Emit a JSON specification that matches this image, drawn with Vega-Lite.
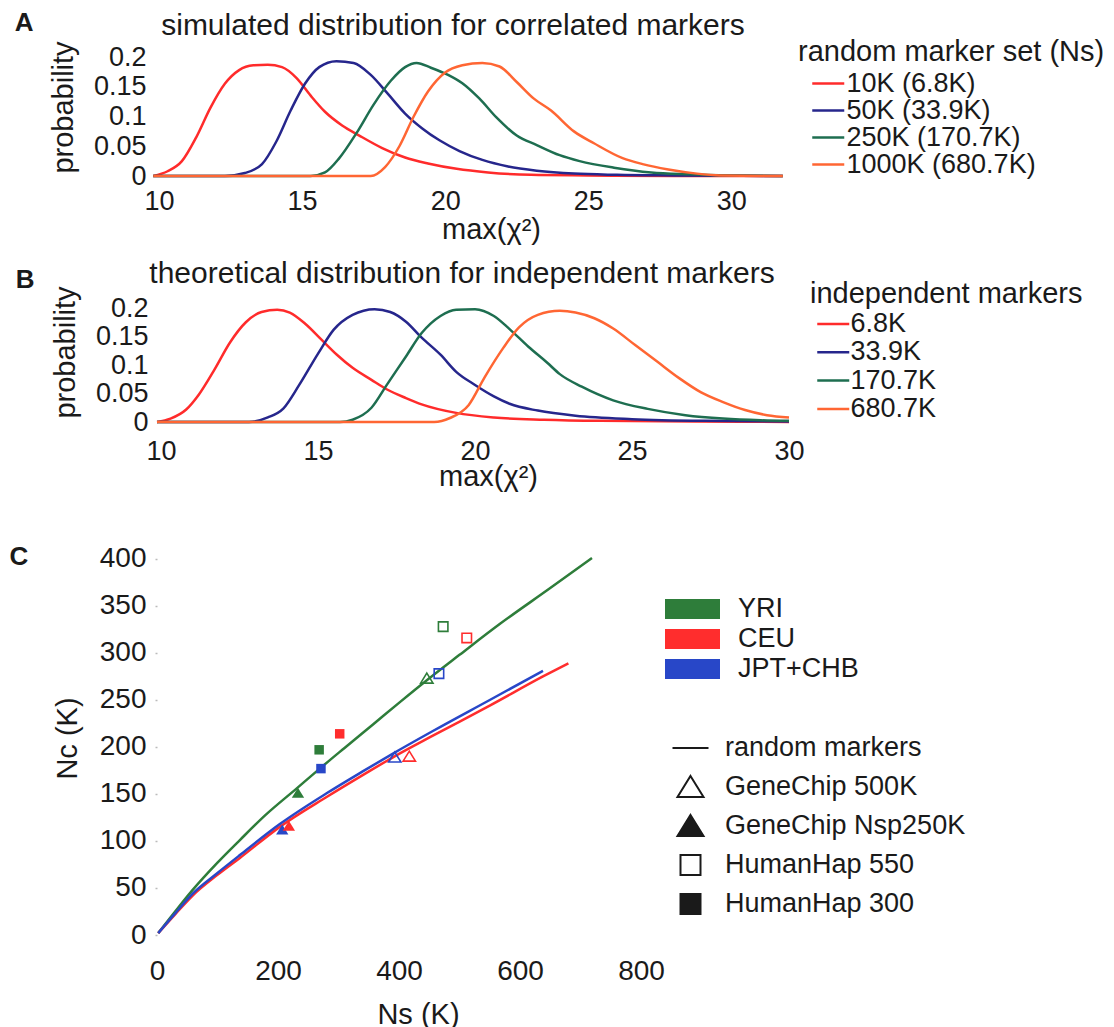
{
  "$schema": "https://vega.github.io/schema/vega-lite/v6.json",
  "background": "white",
  "padding": {"left": 9, "top": 9, "right": 0, "bottom": 0},
  "spacing": 13,
  "config": {
    "font": "Liberation Sans",
    "view": {"stroke": null},
    "axis": {"domain": false, "ticks": false, "grid": false, "labelFontSize": 27, "labelColor": "#1a1a1a", "titleFontSize": 29, "titleFontWeight": "normal", "titleColor": "#1a1a1a", "labelFlush": false, "labelOverlap": false},
    "legend": {"titleFontWeight": "normal", "titleFontSize": 29, "labelFontSize": 27, "titleColor": "#1a1a1a", "labelColor": "#1a1a1a", "labelLimit": 500, "titleLimit": 500},
    "title": {"fontWeight": "normal", "fontSize": 30, "color": "#1a1a1a"}
  },
  "datasets": {
    "simA": [
      {"s": "10K (6.8K)", "x": 9.8, "p": 0}, {"s": "10K (6.8K)", "x": 10.3, "p": 0.008}, {"s": "10K (6.8K)", "x": 10.8, "p": 0.025}, {"s": "10K (6.8K)", "x": 11.3, "p": 0.065}, {"s": "10K (6.8K)", "x": 11.8, "p": 0.115}, {"s": "10K (6.8K)", "x": 12.3, "p": 0.155}, {"s": "10K (6.8K)", "x": 12.8, "p": 0.178}, {"s": "10K (6.8K)", "x": 13.3, "p": 0.186}, {"s": "10K (6.8K)", "x": 13.8, "p": 0.187}, {"s": "10K (6.8K)", "x": 14.3, "p": 0.183}, {"s": "10K (6.8K)", "x": 14.8, "p": 0.165}, {"s": "10K (6.8K)", "x": 15.3, "p": 0.135}, {"s": "10K (6.8K)", "x": 15.8, "p": 0.108}, {"s": "10K (6.8K)", "x": 16.4, "p": 0.085}, {"s": "10K (6.8K)", "x": 17.0, "p": 0.068}, {"s": "10K (6.8K)", "x": 17.8, "p": 0.047}, {"s": "10K (6.8K)", "x": 18.6, "p": 0.031}, {"s": "10K (6.8K)", "x": 19.4, "p": 0.021}, {"s": "10K (6.8K)", "x": 20.4, "p": 0.012}, {"s": "10K (6.8K)", "x": 21.5, "p": 0.006}, {"s": "10K (6.8K)", "x": 23.0, "p": 0.002}, {"s": "10K (6.8K)", "x": 25.0, "p": 0.001}, {"s": "10K (6.8K)", "x": 28.0, "p": 0}, {"s": "10K (6.8K)", "x": 31.8, "p": 0},
      {"s": "50K (33.9K)", "x": 9.8, "p": 0}, {"s": "50K (33.9K)", "x": 12.3, "p": 0}, {"s": "50K (33.9K)", "x": 13.0, "p": 0.005}, {"s": "50K (33.9K)", "x": 13.6, "p": 0.02}, {"s": "50K (33.9K)", "x": 14.1, "p": 0.058}, {"s": "50K (33.9K)", "x": 14.6, "p": 0.11}, {"s": "50K (33.9K)", "x": 15.1, "p": 0.155}, {"s": "50K (33.9K)", "x": 15.6, "p": 0.183}, {"s": "50K (33.9K)", "x": 16.2, "p": 0.193}, {"s": "50K (33.9K)", "x": 16.8, "p": 0.19}, {"s": "50K (33.9K)", "x": 17.4, "p": 0.17}, {"s": "50K (33.9K)", "x": 18.0, "p": 0.138}, {"s": "50K (33.9K)", "x": 18.6, "p": 0.105}, {"s": "50K (33.9K)", "x": 19.2, "p": 0.08}, {"s": "50K (33.9K)", "x": 19.8, "p": 0.06}, {"s": "50K (33.9K)", "x": 20.5, "p": 0.042}, {"s": "50K (33.9K)", "x": 21.3, "p": 0.027}, {"s": "50K (33.9K)", "x": 22.2, "p": 0.016}, {"s": "50K (33.9K)", "x": 23.2, "p": 0.009}, {"s": "50K (33.9K)", "x": 24.5, "p": 0.004}, {"s": "50K (33.9K)", "x": 26.0, "p": 0.002}, {"s": "50K (33.9K)", "x": 28.0, "p": 0.001}, {"s": "50K (33.9K)", "x": 31.8, "p": 0},
      {"s": "250K (170.7K)", "x": 9.8, "p": 0}, {"s": "250K (170.7K)", "x": 15.3, "p": 0}, {"s": "250K (170.7K)", "x": 15.8, "p": 0.006}, {"s": "250K (170.7K)", "x": 16.3, "p": 0.03}, {"s": "250K (170.7K)", "x": 16.9, "p": 0.072}, {"s": "250K (170.7K)", "x": 17.5, "p": 0.12}, {"s": "250K (170.7K)", "x": 18.1, "p": 0.16}, {"s": "250K (170.7K)", "x": 18.6, "p": 0.183}, {"s": "250K (170.7K)", "x": 19.0, "p": 0.19}, {"s": "250K (170.7K)", "x": 19.5, "p": 0.182}, {"s": "250K (170.7K)", "x": 20.1, "p": 0.17}, {"s": "250K (170.7K)", "x": 20.6, "p": 0.156}, {"s": "250K (170.7K)", "x": 21.2, "p": 0.13}, {"s": "250K (170.7K)", "x": 21.8, "p": 0.098}, {"s": "250K (170.7K)", "x": 22.5, "p": 0.068}, {"s": "250K (170.7K)", "x": 23.2, "p": 0.052}, {"s": "250K (170.7K)", "x": 24.0, "p": 0.035}, {"s": "250K (170.7K)", "x": 24.7, "p": 0.025}, {"s": "250K (170.7K)", "x": 25.9, "p": 0.014}, {"s": "250K (170.7K)", "x": 27.2, "p": 0.006}, {"s": "250K (170.7K)", "x": 28.5, "p": 0.003}, {"s": "250K (170.7K)", "x": 30.0, "p": 0.001}, {"s": "250K (170.7K)", "x": 31.8, "p": 0},
      {"s": "1000K (680.7K)", "x": 9.8, "p": 0}, {"s": "1000K (680.7K)", "x": 17.4, "p": 0}, {"s": "1000K (680.7K)", "x": 17.9, "p": 0.015}, {"s": "1000K (680.7K)", "x": 18.4, "p": 0.05}, {"s": "1000K (680.7K)", "x": 18.9, "p": 0.1}, {"s": "1000K (680.7K)", "x": 19.4, "p": 0.142}, {"s": "1000K (680.7K)", "x": 20.0, "p": 0.174}, {"s": "1000K (680.7K)", "x": 20.6, "p": 0.186}, {"s": "1000K (680.7K)", "x": 21.3, "p": 0.19}, {"s": "1000K (680.7K)", "x": 21.9, "p": 0.184}, {"s": "1000K (680.7K)", "x": 22.5, "p": 0.158}, {"s": "1000K (680.7K)", "x": 23.1, "p": 0.13}, {"s": "1000K (680.7K)", "x": 23.7, "p": 0.11}, {"s": "1000K (680.7K)", "x": 24.5, "p": 0.075}, {"s": "1000K (680.7K)", "x": 25.2, "p": 0.055}, {"s": "1000K (680.7K)", "x": 26.2, "p": 0.03}, {"s": "1000K (680.7K)", "x": 26.9, "p": 0.02}, {"s": "1000K (680.7K)", "x": 27.8, "p": 0.011}, {"s": "1000K (680.7K)", "x": 28.8, "p": 0.004}, {"s": "1000K (680.7K)", "x": 29.6, "p": 0.001}, {"s": "1000K (680.7K)", "x": 31.8, "p": 0}
    ],
    "simB": [
      {"s": "6.8K", "x": 9.87, "p": 0}, {"s": "6.8K", "x": 10.3, "p": 0.006}, {"s": "6.8K", "x": 10.8, "p": 0.022}, {"s": "6.8K", "x": 11.2, "p": 0.048}, {"s": "6.8K", "x": 11.7, "p": 0.092}, {"s": "6.8K", "x": 12.2, "p": 0.14}, {"s": "6.8K", "x": 12.7, "p": 0.175}, {"s": "6.8K", "x": 13.2, "p": 0.193}, {"s": "6.8K", "x": 13.7, "p": 0.197}, {"s": "6.8K", "x": 14.1, "p": 0.192}, {"s": "6.8K", "x": 14.6, "p": 0.172}, {"s": "6.8K", "x": 15.1, "p": 0.145}, {"s": "6.8K", "x": 15.6, "p": 0.118}, {"s": "6.8K", "x": 16.1, "p": 0.095}, {"s": "6.8K", "x": 16.7, "p": 0.074}, {"s": "6.8K", "x": 17.2, "p": 0.057}, {"s": "6.8K", "x": 17.8, "p": 0.042}, {"s": "6.8K", "x": 18.3, "p": 0.031}, {"s": "6.8K", "x": 19.4, "p": 0.016}, {"s": "6.8K", "x": 20.6, "p": 0.008}, {"s": "6.8K", "x": 22.2, "p": 0.004}, {"s": "6.8K", "x": 24.0, "p": 0.002}, {"s": "6.8K", "x": 27.0, "p": 0.001}, {"s": "6.8K", "x": 30.0, "p": 0},
      {"s": "33.9K", "x": 9.87, "p": 0}, {"s": "33.9K", "x": 12.8, "p": 0}, {"s": "33.9K", "x": 13.4, "p": 0.008}, {"s": "33.9K", "x": 13.9, "p": 0.024}, {"s": "33.9K", "x": 14.4, "p": 0.065}, {"s": "33.9K", "x": 15.0, "p": 0.12}, {"s": "33.9K", "x": 15.5, "p": 0.162}, {"s": "33.9K", "x": 16.1, "p": 0.188}, {"s": "33.9K", "x": 16.8, "p": 0.198}, {"s": "33.9K", "x": 17.3, "p": 0.193}, {"s": "33.9K", "x": 17.8, "p": 0.176}, {"s": "33.9K", "x": 18.3, "p": 0.148}, {"s": "33.9K", "x": 18.9, "p": 0.118}, {"s": "33.9K", "x": 19.4, "p": 0.088}, {"s": "33.9K", "x": 20.0, "p": 0.065}, {"s": "33.9K", "x": 20.6, "p": 0.045}, {"s": "33.9K", "x": 21.1, "p": 0.032}, {"s": "33.9K", "x": 22.0, "p": 0.02}, {"s": "33.9K", "x": 23.2, "p": 0.011}, {"s": "33.9K", "x": 25.0, "p": 0.005}, {"s": "33.9K", "x": 27.3, "p": 0.002}, {"s": "33.9K", "x": 30.0, "p": 0.001},
      {"s": "170.7K", "x": 9.87, "p": 0}, {"s": "170.7K", "x": 15.7, "p": 0}, {"s": "170.7K", "x": 16.1, "p": 0.004}, {"s": "170.7K", "x": 16.7, "p": 0.025}, {"s": "170.7K", "x": 17.2, "p": 0.066}, {"s": "170.7K", "x": 17.8, "p": 0.115}, {"s": "170.7K", "x": 18.3, "p": 0.156}, {"s": "170.7K", "x": 18.9, "p": 0.186}, {"s": "170.7K", "x": 19.4, "p": 0.197}, {"s": "170.7K", "x": 20.0, "p": 0.198}, {"s": "170.7K", "x": 20.6, "p": 0.186}, {"s": "170.7K", "x": 21.1, "p": 0.163}, {"s": "170.7K", "x": 21.7, "p": 0.132}, {"s": "170.7K", "x": 22.3, "p": 0.104}, {"s": "170.7K", "x": 22.7, "p": 0.084}, {"s": "170.7K", "x": 23.4, "p": 0.062}, {"s": "170.7K", "x": 24.4, "p": 0.038}, {"s": "170.7K", "x": 25.5, "p": 0.023}, {"s": "170.7K", "x": 26.7, "p": 0.012}, {"s": "170.7K", "x": 27.9, "p": 0.006}, {"s": "170.7K", "x": 29.1, "p": 0.003}, {"s": "170.7K", "x": 30.0, "p": 0.002},
      {"s": "680.7K", "x": 9.87, "p": 0}, {"s": "680.7K", "x": 18.7, "p": 0}, {"s": "680.7K", "x": 19.2, "p": 0.007}, {"s": "680.7K", "x": 19.8, "p": 0.03}, {"s": "680.7K", "x": 20.3, "p": 0.078}, {"s": "680.7K", "x": 20.9, "p": 0.13}, {"s": "680.7K", "x": 21.4, "p": 0.166}, {"s": "680.7K", "x": 22.0, "p": 0.188}, {"s": "680.7K", "x": 22.7, "p": 0.195}, {"s": "680.7K", "x": 23.2, "p": 0.192}, {"s": "680.7K", "x": 23.8, "p": 0.182}, {"s": "680.7K", "x": 24.4, "p": 0.164}, {"s": "680.7K", "x": 25.1, "p": 0.135}, {"s": "680.7K", "x": 25.8, "p": 0.106}, {"s": "680.7K", "x": 26.5, "p": 0.077}, {"s": "680.7K", "x": 27.2, "p": 0.052}, {"s": "680.7K", "x": 27.9, "p": 0.035}, {"s": "680.7K", "x": 28.6, "p": 0.021}, {"s": "680.7K", "x": 29.3, "p": 0.012}, {"s": "680.7K", "x": 30.0, "p": 0.008}
    ],
    "linesC": [
      {"pop": "YRI", "ns": 2, "nc": 2}, {"pop": "YRI", "ns": 30, "nc": 25}, {"pop": "YRI", "ns": 59, "nc": 48}, {"pop": "YRI", "ns": 100, "nc": 77}, {"pop": "YRI", "ns": 137, "nc": 101}, {"pop": "YRI", "ns": 180, "nc": 128}, {"pop": "YRI", "ns": 231, "nc": 156}, {"pop": "YRI", "ns": 269, "nc": 177}, {"pop": "YRI", "ns": 310, "nc": 199}, {"pop": "YRI", "ns": 357, "nc": 224}, {"pop": "YRI", "ns": 402, "nc": 248}, {"pop": "YRI", "ns": 446, "nc": 271}, {"pop": "YRI", "ns": 500, "nc": 298}, {"pop": "YRI", "ns": 567, "nc": 331}, {"pop": "YRI", "ns": 650, "nc": 369}, {"pop": "YRI", "ns": 719, "nc": 401},
      {"pop": "CEU", "ns": 2, "nc": 2}, {"pop": "CEU", "ns": 30, "nc": 22}, {"pop": "CEU", "ns": 59, "nc": 42}, {"pop": "CEU", "ns": 100, "nc": 64}, {"pop": "CEU", "ns": 137, "nc": 82}, {"pop": "CEU", "ns": 203, "nc": 115}, {"pop": "CEU", "ns": 281, "nc": 147}, {"pop": "CEU", "ns": 340, "nc": 170}, {"pop": "CEU", "ns": 390, "nc": 189}, {"pop": "CEU", "ns": 456, "nc": 212}, {"pop": "CEU", "ns": 550, "nc": 244}, {"pop": "CEU", "ns": 638, "nc": 275}, {"pop": "CEU", "ns": 680, "nc": 289},
      {"pop": "JPT+CHB", "ns": 2, "nc": 2}, {"pop": "JPT+CHB", "ns": 30, "nc": 23}, {"pop": "JPT+CHB", "ns": 59, "nc": 44}, {"pop": "JPT+CHB", "ns": 100, "nc": 66}, {"pop": "JPT+CHB", "ns": 137, "nc": 85}, {"pop": "JPT+CHB", "ns": 203, "nc": 118}, {"pop": "JPT+CHB", "ns": 281, "nc": 151}, {"pop": "JPT+CHB", "ns": 340, "nc": 174}, {"pop": "JPT+CHB", "ns": 390, "nc": 193}, {"pop": "JPT+CHB", "ns": 456, "nc": 217}, {"pop": "JPT+CHB", "ns": 550, "nc": 250}, {"pop": "JPT+CHB", "ns": 638, "nc": 281}
    ],
    "ptsC": [
      {"pop": "YRI", "chip": "GeneChip Nsp250K", "filled": true, "ns": 233, "nc": 151},
      {"pop": "JPT+CHB", "chip": "GeneChip Nsp250K", "filled": true, "ns": 207, "nc": 112},
      {"pop": "CEU", "chip": "GeneChip Nsp250K", "filled": true, "ns": 218, "nc": 116},
      {"pop": "YRI", "chip": "HumanHap 300", "filled": true, "ns": 268, "nc": 197},
      {"pop": "JPT+CHB", "chip": "HumanHap 300", "filled": true, "ns": 271, "nc": 177},
      {"pop": "CEU", "chip": "HumanHap 300", "filled": true, "ns": 302, "nc": 214},
      {"pop": "JPT+CHB", "chip": "GeneChip 500K", "filled": false, "ns": 393, "nc": 189},
      {"pop": "CEU", "chip": "GeneChip 500K", "filled": false, "ns": 417, "nc": 190},
      {"pop": "YRI", "chip": "GeneChip 500K", "filled": false, "ns": 446, "nc": 273},
      {"pop": "JPT+CHB", "chip": "HumanHap 550", "filled": false, "ns": 466, "nc": 278},
      {"pop": "YRI", "chip": "HumanHap 550", "filled": false, "ns": 473, "nc": 328},
      {"pop": "CEU", "chip": "HumanHap 550", "filled": false, "ns": 512, "nc": 316}
    ]
  },
  "resolve": {"scale": {"color": "independent", "shape": "independent", "fill": "independent", "x": "independent", "y": "independent"}},
  "vconcat": [
    {
      "title": {"text": "A", "orient": "left", "anchor": "end", "angle": 0, "align": "left", "baseline": "top", "frame": "bounds", "offset": 16, "dy": -1, "fontWeight": "bold", "fontSize": 26},
      "vconcat": [
        {
          "width": 635, "height": 119,
          "title": {"text": "simulated distribution for correlated markers", "frame": "group", "anchor": "middle", "dx": -21.5, "offset": -24, "baseline": "alphabetic"},
          "data": {"name": "simA"},
          "mark": {"type": "line", "interpolate": "monotone", "strokeWidth": 2.5},
          "encoding": {
            "x": {"field": "x", "type": "quantitative", "scale": {"domain": [9.93, 32.12], "nice": false, "zero": false}, "axis": {"values": [10, 15, 20, 25, 30], "title": "max(χ²)", "labelPadding": 12.5, "titlePadding": 1, "titleX": 334}},
            "y": {"field": "p", "type": "quantitative", "scale": {"domain": [0, 0.2], "nice": false}, "axis": {"values": [0, 0.05, 0.1, 0.15, 0.2], "format": "~g", "title": "probability", "labelPadding": 11, "titlePadding": 15, "titleY": 50}},
            "color": {"field": "s", "type": "nominal", "sort": null, "scale": {"domain": ["10K (6.8K)", "50K (33.9K)", "250K (170.7K)", "1000K (680.7K)"], "range": ["#ff2b2b", "#26268c", "#1e6e50", "#ff6633"]}, "legend": {"title": "random marker set (Ns)", "orient": "none", "legendX": 641, "legendY": -19.5, "symbolType": "M-1.6,0H1.6", "symbolSize": 400, "symbolStrokeWidth": 2.5, "symbolOffset": 16.75, "labelOffset": 4.75, "rowPadding": 0, "clipHeight": 26, "titlePadding": 4}}
          }
        }
      ]
    },
    {
      "title": {"text": "B", "orient": "left", "anchor": "end", "angle": 0, "align": "left", "baseline": "top", "frame": "bounds", "offset": 17, "dy": 8.5, "fontWeight": "bold", "fontSize": 26},
      "vconcat": [
        {
          "width": 632, "height": 114,
          "title": {"text": "theoretical distribution for independent markers", "frame": "group", "anchor": "middle", "dx": -11, "offset": -27, "baseline": "alphabetic"},
          "data": {"name": "simB"},
          "mark": {"type": "line", "interpolate": "monotone", "strokeWidth": 2.5},
          "encoding": {
            "x": {"field": "x", "type": "quantitative", "scale": {"domain": [9.87, 30], "nice": false, "zero": false}, "axis": {"values": [10, 15, 20, 25, 30], "title": "max(χ²)", "labelPadding": 16.7, "titlePadding": -2, "titleX": 331}},
            "y": {"field": "p", "type": "quantitative", "scale": {"domain": [0, 0.2], "nice": false}, "axis": {"values": [0, 0.05, 0.1, 0.15, 0.2], "format": "~g", "title": "probability", "labelPadding": 9, "titlePadding": 15, "titleY": 44}},
            "color": {"field": "s", "type": "nominal", "sort": null, "scale": {"domain": ["6.8K", "33.9K", "170.7K", "680.7K"], "range": ["#ff2b2b", "#26268c", "#1e6e50", "#ff6633"]}, "legend": {"title": "independent markers", "orient": "none", "legendX": 653, "legendY": -28.5, "symbolType": "M-1.6,0H1.6", "symbolSize": 400, "symbolStrokeWidth": 2.5, "symbolOffset": 9.75, "labelOffset": 3.75, "rowPadding": 0.3, "titlePadding": 2}}
          }
        }
      ]
    },
    {
      "width": 484, "height": 430,
      "title": {"text": "C", "orient": "left", "anchor": "end", "angle": 0, "align": "left", "baseline": "top", "frame": "bounds", "offset": 25, "dy": 38.7, "fontWeight": "bold", "fontSize": 26},
      "layer": [
        {
          "data": {"name": "linesC"},
          "mark": {"type": "line", "interpolate": "monotone", "strokeWidth": 2.5},
          "encoding": {
            "x": {"field": "ns", "type": "quantitative", "scale": {"domain": [0, 800], "nice": false}, "axis": {"values": [0, 200, 400, 600, 800], "title": "Ns (K)", "labelPadding": 22.7, "titlePadding": 15, "titleX": 261, "labelFontSize": 28}},
            "y": {"field": "nc", "type": "quantitative", "scale": {"domain": [0, 457.4], "nice": false}, "axis": {"values": [0, 50, 100, 150, 200, 250, 300, 350, 400], "title": "Nc (K)", "titleY": 233, "ticks": true, "tickSize": 2, "tickWidth": 1.5, "tickColor": "#bbbbbb", "labelPadding": 9, "titlePadding": 17, "labelFontSize": 28}},
            "color": {"field": "pop", "type": "nominal", "sort": null, "scale": {"domain": ["YRI", "CEU", "JPT+CHB"], "range": ["#2e7d3a", "#ff2d2d", "#2847c8"]}, "legend": {"title": null, "orient": "none", "legendX": 508, "legendY": 89, "symbolType": "M-2.75,0H2.75", "symbolSize": 400, "symbolStrokeWidth": 20, "symbolOffset": 7.5, "labelOffset": 25.5, "rowPadding": 0, "clipHeight": 30, "labelFontSize": 27}}
          }
        },
        {
          "data": {"name": "ptsC"},
          "mark": {"type": "point", "filled": false, "opacity": 0, "stroke": "#1a1a1a", "size": 90},
          "encoding": {
            "x": {"field": "ns", "type": "quantitative"},
            "y": {"field": "nc", "type": "quantitative"},
            "shape": {"field": "chip", "type": "nominal", "sort": null, "scale": {"domain": ["random markers", "GeneChip 500K", "GeneChip Nsp250K", "HumanHap 550", "HumanHap 300"], "range": ["M-1.8,0H1.8", "M0,-1.1L1.3,1L-1.3,1Z", "M0,-1.1L1.3,1L-1.3,1Z", "square", "square"]}, "legend": {"title": null, "orient": "none", "legendX": 513, "legendY": 223.6, "symbolSize": 400, "symbolStrokeWidth": 2, "symbolOpacity": 1, "symbolOffset": 7, "labelOffset": 21, "rowPadding": 0, "clipHeight": 38.7, "labelFontSize": 27}},
            "fill": {"field": "chip", "type": "nominal", "sort": null, "scale": {"domain": ["random markers", "GeneChip 500K", "GeneChip Nsp250K", "HumanHap 550", "HumanHap 300"], "range": ["transparent", "transparent", "#1a1a1a", "transparent", "#1a1a1a"]}, "legend": {"title": null, "orient": "none", "legendX": 513, "legendY": 223.6, "symbolSize": 400, "symbolStrokeWidth": 2, "symbolOpacity": 1, "symbolOffset": 7, "labelOffset": 21, "rowPadding": 0, "clipHeight": 38.7, "labelFontSize": 27}}
          }
        },
        {
          "data": {"name": "ptsC"},
          "transform": [{"filter": "datum.filled === false"}],
          "mark": {"type": "point", "filled": false, "strokeWidth": 1.6, "size": 90, "opacity": 1},
          "encoding": {
            "x": {"field": "ns", "type": "quantitative"},
            "y": {"field": "nc", "type": "quantitative"},
            "color": {"field": "pop", "type": "nominal"},
            "shape": {"field": "chip", "type": "nominal"}
          }
        },
        {
          "data": {"name": "ptsC"},
          "transform": [{"filter": "datum.filled === true"}],
          "mark": {"type": "point", "filled": true, "size": 90, "opacity": 1},
          "encoding": {
            "x": {"field": "ns", "type": "quantitative"},
            "y": {"field": "nc", "type": "quantitative"},
            "color": {"field": "pop", "type": "nominal"},
            "shape": {"field": "chip", "type": "nominal"}
          }
        }
      ]
    }
  ]
}
